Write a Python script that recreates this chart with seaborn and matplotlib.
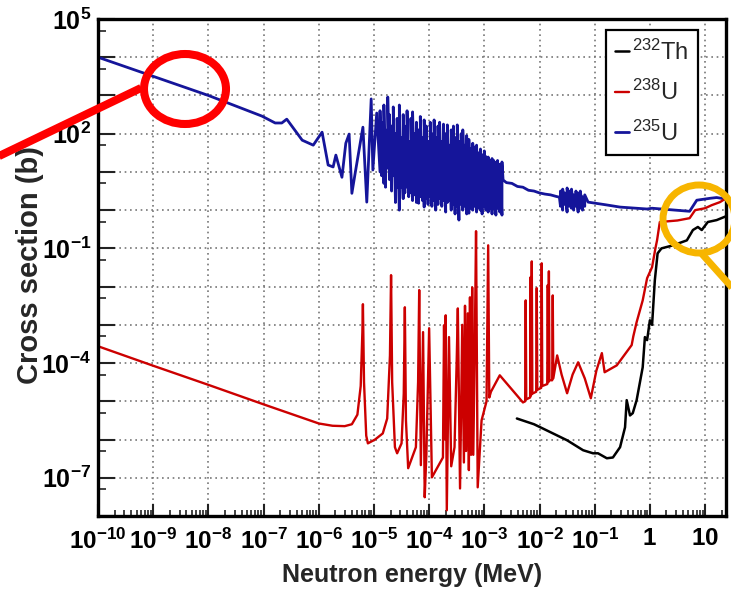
import matplotlib
matplotlib.use("Agg")
import matplotlib.pyplot as plt
from matplotlib.patches import Ellipse
from matplotlib.lines import Line2D
from matplotlib.ticker import FixedLocator, LogLocator, NullFormatter
import seaborn as sns
import pandas as pd

# values: log10(E / MeV) and log10(sigma / b)

# 235U, smooth 1/v part and first resolved resonances
u235_low_logE = [-10.0, -9.0, -8.0, -7.03, -6.79, -6.67, -6.58, -6.30, -6.10, -5.94,
                 -5.83, -5.74, -5.69, -5.58, -5.51, -5.45, -5.40, -5.34, -5.20, -5.13,
                 -5.05, -5.02, -4.95]
u235_low_logxs = [4.00, 3.50, 3.00, 2.46, 2.28, 2.28, 2.38, 1.83, 1.70, 2.04,
                  1.18, 1.13, 1.44, 0.86, 1.75, 1.99, 0.44, 0.97, 2.17, 0.21,
                  2.91, 1.05, 2.54]

# 235U, dense resonance region
u235_res_logE = [-4.89, -4.86, -4.82, -4.79, -4.75, -4.72, -4.68, -4.65, -4.61, -4.58,
                 -4.54, -4.51, -4.47, -4.44, -4.40, -4.37, -4.33, -4.30, -4.26, -4.23,
                 -4.19, -4.16, -4.12, -4.09, -4.05, -4.02, -3.98, -3.95, -3.91, -3.88,
                 -3.84, -3.81, -3.77, -3.74, -3.70, -3.67, -3.63, -3.60, -3.56, -3.53,
                 -3.49, -3.46, -3.42, -3.39, -3.35, -3.32, -3.28, -3.25, -3.21, -3.18,
                 -3.14, -3.11, -3.07, -3.04, -3.00, -2.97, -2.93, -2.90, -2.86, -2.83,
                 -2.79, -2.76, -2.72, -2.68]
u235_res_peak = [2.60, 2.30, 2.75, 2.10, 2.96, 2.50, 2.20, 2.70, 2.00, 2.40,
                 2.75, 1.90, 2.50, 2.20, 2.60, 1.80, 2.40, 2.57, 2.00, 2.30,
                 2.10, 2.45, 1.90, 2.36, 2.20, 1.80, 2.30, 2.00, 2.36, 1.90,
                 2.20, 2.30, 1.80, 2.25, 2.00, 2.23, 1.70, 2.10, 2.20, 1.90,
                 2.23, 1.80, 2.00, 2.10, 1.70, 1.95, 1.85, 1.60, 1.75, 1.65,
                 1.70, 1.50, 1.60, 1.45, 1.55, 1.40, 1.39, 1.30, 1.35, 1.30,
                 1.25, 1.30, 1.20, 1.26]
u235_res_valley = [1.00, 0.90, 0.70, 0.60, 1.10, 0.80, 0.50, 0.90, 0.20, 0.60,
                   0.00, 0.60, 0.30, 0.45, 0.60, 0.35, 0.45, 0.25, 0.40, 0.20,
                   0.18, 0.35, 0.25, 0.08, 0.30, 0.15, 0.35, 0.10, 0.25, 0.00,
                   0.15, 0.30, 0.10, 0.25, -0.05, 0.20, 0.25, 0.00, 0.15, -0.10,
                   0.10, -0.26, 0.15, 0.00, 0.10, -0.10, -0.08, 0.05, 0.00, 0.10,
                   -0.05, 0.05, 0.00, -0.10, 0.10, 0.00, -0.05, 0.05, -0.10, 0.05,
                   -0.13, 0.05, -0.05, -0.13]

# 235U, unresolved region, small cluster and fast tail
u235_mid_logE = [-2.66, -2.60, -2.50, -2.40, -2.30, -2.20, -2.10, -2.00, -1.90, -1.80,
                 -1.70, -1.64]
u235_mid_logxs = [0.79, 0.72, 0.70, 0.62, 0.60, 0.52, 0.50, 0.45, 0.42, 0.40,
                  0.36, 0.34]
u235_cl_logE = [-1.62, -1.58, -1.54, -1.50, -1.46, -1.42, -1.38, -1.34, -1.30, -1.26,
                -1.22, -1.18]
u235_cl_peak = [0.50, 0.55, 0.45, 0.58, 0.50, 0.55, 0.40, 0.50, 0.45, 0.50, 0.35, 0.40]
u235_cl_valley = [0.10, 0.00, 0.15, -0.05, 0.10, 0.05, 0.00, 0.10, -0.05, 0.05, 0.00, 0.10]
u235_tail_logE = [-1.12, -0.80, -0.54, -0.05, 0.04, 0.30, 0.72, 0.85, 1.09, 1.21, 1.38]
u235_tail_logxs = [0.21, 0.14, 0.08, 0.03, 0.05, 0.02, -0.03, 0.26, 0.31, 0.33, 0.29]

# 238U
u238_logE = [-10.0, -9.0, -8.0, -7.0, -6.0, -5.75, -5.53, -5.40, -5.30, -5.24,
             -5.21, -5.20, -5.18, -5.14, -5.11, -4.98, -4.84, -4.76, -4.71, -4.69,
             -4.67, -4.62, -4.58, -4.50, -4.46, -4.44, -4.42, -4.38, -4.24, -4.20,
             -4.18, -4.15, -4.11, -4.08, -4.05, -4.00, -3.95, -3.80, -3.75, -3.73,
             -3.71, -3.70, -3.68, -3.64, -3.60, -3.54, -3.50, -3.48, -3.44, -3.40,
             -3.37, -3.35, -3.33, -3.30, -3.28, -3.26, -3.24, -3.22, -3.20, -3.17,
             -3.15, -3.12, -3.05, -2.96, -2.93, -2.91, -2.88, -2.72, -2.30, -2.26,
             -2.25, -2.24, -2.17, -2.16, -2.155, -2.14, -2.13, -2.06, -2.05, -2.04,
             -1.97, -1.96, -1.95, -1.86, -1.85, -1.84, -1.83, -1.82, -1.77, -1.76,
             -1.75, -1.68, -1.60, -1.50, -1.40, -1.30, -1.18, -1.07, -0.97, -0.87,
             -0.82, -0.60, -0.33, -0.30, -0.24, -0.13, -0.05, 0.04, 0.10, 0.13,
             0.18, 0.50, 0.72, 0.82, 1.00, 1.12, 1.27, 1.38]
u238_logxs = [-3.56, -4.07, -4.57, -5.08, -5.58, -5.64, -5.65, -5.60, -5.35, -4.60,
              -3.20, -2.46, -4.50, -5.90, -6.10, -6.00, -5.84, -5.45, -3.80, -1.70,
              -4.50, -6.20, -6.36, -6.10, -4.80, -2.54, -5.50, -6.75, -6.20, -4.50,
              -2.09, -6.67, -3.19, -7.51, -6.38, -3.09, -6.99, -6.60, -6.47, -3.01,
              -6.00, -2.75, -7.85, -3.32, -6.70, -6.20, -3.90, -2.57, -7.28, -3.00,
              -6.60, -2.50, -6.30, -2.70, -6.80, -2.28, -6.40, -2.02, -6.40, -3.20,
              -0.55, -7.25, -5.50, -5.00, -0.92, -4.90, -4.75, -4.32, -5.03, -5.00,
              -2.36, -4.95, -4.90, -1.75, -4.85, -1.34, -4.80, -4.75, -2.04, -4.70,
              -4.65, -1.39, -4.60, -4.55, -1.96, -4.50, -1.60, -4.45, -4.45, -2.23,
              -4.40, -3.80, -4.30, -4.79, -4.30, -3.98, -4.40, -4.92, -4.20, -3.74,
              -4.24, -4.06, -3.53, -3.30, -2.93, -2.36, -1.78, -1.49, -1.00, -0.79,
              -0.31, -0.27, -0.21, 0.00, 0.05, 0.13, 0.21, 0.31]

# 232Th
th232_logE = [-2.41, -2.10, -1.87, -1.50, -1.21, -1.03, -0.94, -0.78, -0.67, -0.54,
              -0.45, -0.42, -0.36, -0.31, -0.24, -0.13, -0.09, -0.05, 0.00, 0.04,
              0.09, 0.14, 0.21, 0.42, 0.67, 0.78, 0.87, 0.94, 1.05, 1.21, 1.38]
th232_logxs = [-5.45, -5.60, -5.76, -6.02, -6.28, -6.36, -6.36, -6.49, -6.47, -6.20,
               -5.68, -4.97, -5.37, -5.31, -4.97, -4.11, -3.32, -3.40, -2.88, -3.00,
               -1.83, -1.13, -1.00, -0.92, -0.79, -0.52, -0.44, -0.52, -0.31, -0.26,
               -0.16]

x_tick_exps = [-10, -9, -8, -7, -6, -5, -4, -3, -2, -1, 0, 1]
x_tick_labels = [r'$\mathbf{10^{-10}}$', r'$\mathbf{10^{-9}}$', r'$\mathbf{10^{-8}}$',
                 r'$\mathbf{10^{-7}}$', r'$\mathbf{10^{-6}}$', r'$\mathbf{10^{-5}}$',
                 r'$\mathbf{10^{-4}}$', r'$\mathbf{10^{-3}}$', r'$\mathbf{10^{-2}}$',
                 r'$\mathbf{10^{-1}}$', r'$\mathbf{1}$', r'$\mathbf{10}$']
y_tick_exps = [-8, -7, -6, -5, -4, -3, -2, -1, 0, 1, 2, 3, 4, 5]
y_labelled = {5: r'$\mathbf{10^{5}}$', 2: r'$\mathbf{10^{2}}$', -1: r'$\mathbf{10^{-1}}$',
              -4: r'$\mathbf{10^{-4}}$', -7: r'$\mathbf{10^{-7}}$'}

legend_order = [r'$^{232}$Th', r'$^{238}$U', r'$^{235}$U']


def zigzag(logE, peak, valley):
    xs, ys = [], []
    for e, p, v in zip(logE, peak, valley):
        xs += [e, e]
        ys += [v, p]
    return xs, ys


res_x, res_y = zigzag(u235_res_logE, u235_res_peak, u235_res_valley)
cl_x, cl_y = zigzag(u235_cl_logE, u235_cl_peak, u235_cl_valley)
u235_x = u235_low_logE + res_x + u235_mid_logE + cl_x + u235_tail_logE
u235_y = u235_low_logxs + res_y + u235_mid_logxs + cl_y + u235_tail_logxs

df_u235 = pd.DataFrame({'E': [10 ** v for v in u235_x], 'xs': [10 ** v for v in u235_y]})
df_u238 = pd.DataFrame({'E': [10 ** v for v in u238_logE], 'xs': [10 ** v for v in u238_logxs]})
df_th = pd.DataFrame({'E': [10 ** v for v in th232_logE], 'xs': [10 ** v for v in th232_logxs]})

sns.set_style("white")
plt.rcParams['font.family'] = ['Liberation Sans', 'DejaVu Sans']
plt.rcParams['mathtext.fontset'] = 'custom'
plt.rcParams['mathtext.rm'] = 'Liberation Sans'
plt.rcParams['mathtext.bf'] = 'Liberation Sans:bold'
plt.rcParams['mathtext.it'] = 'Liberation Sans:italic'

fig = plt.figure(figsize=(7.31, 5.92), dpi=100)
ax = fig.add_axes([0.1341, 0.1284, 0.8591, 0.8395])

sns.lineplot(data=df_u235, x='E', y='xs', ax=ax, color='#15159a', lw=2.0,
             estimator=None, sort=False, label=r'$^{235}$U')
sns.lineplot(data=df_u238, x='E', y='xs', ax=ax, color='#cc0000', lw=1.7,
             estimator=None, sort=False, label=r'$^{238}$U')
sns.lineplot(data=df_th, x='E', y='xs', ax=ax, color='black', lw=1.8,
             estimator=None, sort=False, label=r'$^{232}$Th')

ax.set_xscale('log')
ax.set_yscale('log')
ax.set_xlim(1e-10, 10 ** 1.38)
ax.set_ylim(1e-8, 1e5)

ax.xaxis.set_major_locator(FixedLocator([10.0 ** e for e in x_tick_exps]))
ax.set_xticklabels(x_tick_labels)
ax.xaxis.set_minor_locator(LogLocator(base=10, subs=range(2, 10), numticks=100))
ax.xaxis.set_minor_formatter(NullFormatter())
ax.yaxis.set_major_locator(FixedLocator([10.0 ** e for e in y_tick_exps]))
ax.set_yticklabels([y_labelled.get(e, '') for e in y_tick_exps])
ax.yaxis.set_minor_locator(LogLocator(base=10, subs=[5], numticks=100))
ax.yaxis.set_minor_formatter(NullFormatter())

ax.tick_params(axis='both', which='both', direction='in', colors='#222222',
               labelcolor='black', bottom=True, left=True, top=False, right=False)
ax.tick_params(axis='x', which='major', length=9, width=1.5, labelsize=17.5, pad=9)
ax.tick_params(axis='x', which='minor', length=4.5, width=1.2)
ax.tick_params(axis='y', which='major', length=12, width=1.5, labelsize=18, pad=5)
ax.tick_params(axis='y', which='minor', length=6, width=1.2)

ax.grid(True, which='major', color='#777777', linestyle=(0, (1, 2.2)), lw=1.2)
for s in ax.spines.values():
    s.set_color('black')
    s.set_linewidth(2.4)

ax.set_xlabel('Neutron energy (MeV)', fontsize=18, fontweight='bold')
ax.set_ylabel('Cross section (b)', fontsize=21, fontweight='bold')
ax.xaxis.set_label_coords(0.5, -0.095)
ax.yaxis.set_label_coords(-0.086, 0.505)

handles, labels = ax.get_legend_handles_labels()
hmap = dict(zip(labels, handles))
leg = ax.legend([hmap[l] for l in legend_order], legend_order, loc='upper right',
                bbox_to_anchor=(0.955, 0.978), fontsize=17, handlelength=0.6,
                handletextpad=0.1, labelspacing=0.65, borderpad=0.4,
                borderaxespad=0, fancybox=False, framealpha=1, edgecolor='black')
leg.get_frame().set_linewidth(1.6)

# hand-drawn highlight marks
W, H = 731.0, 592.0
fig.add_artist(Ellipse((185 / W, 1 - 89 / H), 82 / W, 70 / H, fill=False,
                       edgecolor='#ff0000', lw=5.8, transform=fig.transFigure))
fig.add_artist(Line2D([141 / W, -5 / W], [1 - 88 / H, 1 - 158 / H], color='#ff0000',
                      lw=5.8, solid_capstyle='butt', transform=fig.transFigure))
fig.add_artist(Ellipse((699 / W, 1 - 219 / H), 72 / W, 68 / H, fill=False,
                       edgecolor='#f7b500', lw=5.0, transform=fig.transFigure))
fig.add_artist(Line2D([702 / W, 745 / W], [1 - 254 / H, 1 - 302 / H], color='#f7b500',
                      lw=5.0, solid_capstyle='butt', transform=fig.transFigure))

fig.savefig('out.png', dpi=100)
